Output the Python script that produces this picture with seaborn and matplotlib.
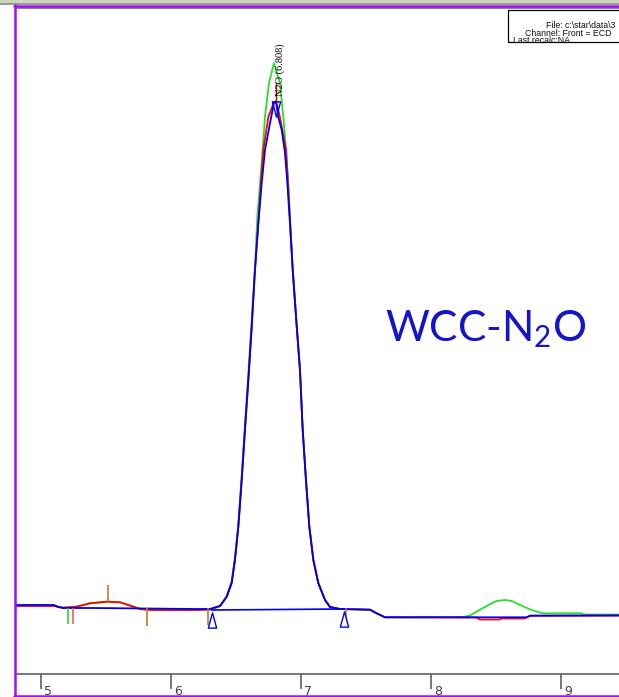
import numpy as np
import pandas as pd
import matplotlib
matplotlib.use("Agg")
import matplotlib.pyplot as plt
import seaborn as sns
from matplotlib.patches import Rectangle
from matplotlib.lines import Line2D
from matplotlib.path import Path
from matplotlib.transforms import ScaledTranslation

# ---------------- data ----------------
blue_time = [4.808, 5.10, 5.13, 5.17, 5.40, 5.80, 6.20, 6.30, 6.377, 6.428, 6.467, 6.492,
             6.518, 6.544, 6.569, 6.595, 6.621, 6.646, 6.672, 6.698, 6.723, 6.762, 6.792,
             6.808, 6.825, 6.852, 6.877, 6.895, 6.915, 6.936, 6.967, 6.992, 7.013, 7.038,
             7.064, 7.095, 7.133, 7.185, 7.223, 7.30, 7.531, 7.582, 7.646, 8.25, 8.736,
             8.762, 9.446]
blue_signal = [4, 4, 2, 1, 1, 0.5, 0, 0, 3, 12, 26, 49,
               82, 129, 179, 229, 282, 339, 386, 426, 459, 486, 506,
               507, 492, 479, 456, 426, 386, 339, 282, 239, 179, 129,
               82, 49, 26, 9, 2, 0, -0.7, -4.3, -8.3, -8.3, -8.3,
               -6.7, -6.5]

red_time = [4.808, 5.10, 5.17, 5.274, 5.377, 5.505, 5.608, 5.71, 5.762, 5.85, 6.20, 6.30,
            6.377, 6.428, 6.467, 6.492, 6.518, 6.544, 6.569, 6.595, 6.621, 6.646, 6.672,
            6.692, 6.710, 6.749, 6.790, 6.808, 6.838, 6.885, 6.900, 6.915, 6.936, 6.967,
            6.992, 7.013, 7.038, 7.064, 7.095, 7.133, 7.185, 7.223, 7.30, 7.531, 7.582,
            7.646, 8.35, 8.377, 8.53, 8.54, 8.72, 8.762, 9.446]
red_signal = [3, 3, 1.3, 2.3, 5.7, 7.3, 6.7, 2.3, 0, -1, -1, -0.5,
              3, 12, 26, 49, 82, 129, 179, 229, 282, 339, 386,
              426, 459, 492, 506, 508, 492, 459, 426, 390, 340, 284,
              240, 180, 130, 83, 49, 26, 9, 2, 0, -0.7, -4.3,
              -8.3, -8.5, -10.5, -10.5, -9.5, -9.5, -6.7, -6.5]

green_time = [4.808, 5.10, 5.17, 5.274, 5.377, 5.505, 5.608, 5.71, 5.762, 5.85, 6.20, 6.30,
              6.377, 6.428, 6.467, 6.492, 6.518, 6.544, 6.569, 6.595, 6.621, 6.646, 6.664,
              6.685, 6.705, 6.723, 6.754, 6.792, 6.838, 6.864, 6.885, 6.902, 6.915, 6.936,
              6.967, 6.992, 7.013, 7.038, 7.064, 7.095, 7.133, 7.185, 7.223, 7.30, 7.531,
              7.582, 7.646, 8.246, 8.30, 8.346, 8.40, 8.455, 8.505, 8.569, 8.62, 8.659,
              8.71, 8.762, 8.82, 8.862, 9.159, 9.17, 9.446]
green_signal = [3.5, 3.5, 1.3, 2.3, 5.7, 7.3, 6.7, 2.3, 0, -1, -1, -0.5,
                3, 13, 28, 52, 86, 134, 185, 236, 290, 342, 392,
                426, 459, 492, 526, 546, 526, 492, 459, 426, 392, 342,
                284, 240, 180, 130, 83, 49, 26, 9, 2, 0, -0.7,
                -4.3, -8.3, -8, -6.5, -3, 1, 5, 8, 9, 8, 5.7,
                2.5, -0.3, -3, -4.3, -4.3, -5.5, -5.5]

# integration baseline and peak-start/end markers
baseline_time = [6.313, 7.331]
baseline_signal = [-1, 0]

# detected peak
peak_name = ["N2O (6.808)"]
peak_time = [6.808]
peak_height = [507]

# integration event ticks
event_time = [5.208, 5.246, 5.515, 5.815, 6.285, 7.348]
event_low = [-15, -15, 7, -17, -16, -16]
event_high = [1, 1, 24, 1, 1, 1]
event_color = ["#22dd22", "#f06060", "#c07830", "#c07830", "#c07830", "#c07830"]

x_ticks = [5, 6, 7, 8, 9]
x_tick_labels = ["5", "6", "7", "8", "9"]

# ---------------- figure ----------------
W, H = 619, 697
sns.set_style("white")
plt.rcParams["mathtext.fontset"] = "custom"
plt.rcParams["mathtext.rm"] = "Lato"
plt.rcParams["mathtext.default"] = "rm"
fig = plt.figure(figsize=(W / 100, H / 100), dpi=100)

def fx(px):
    return px / W

def fy(py):
    return 1 - py / H

ax = fig.add_axes([fx(16), fy(674), fx(619) - fx(16), fy(8) - fy(674)])
ax.set_facecolor("white")

df = pd.concat([
    pd.DataFrame({"time": green_time, "signal": green_signal, "run": "green"}),
    pd.DataFrame({"time": red_time, "signal": red_signal, "run": "red"}),
    pd.DataFrame({"time": blue_time, "signal": blue_signal, "run": "blue"}),
], ignore_index=True)

palette = {"green": "#28e028", "red": "#ff0000", "blue": "#0000f0"}
sns.lineplot(data=df, x="time", y="signal", hue="run", hue_order=["green", "red", "blue"],
             palette=palette, estimator=None, sort=False, legend=False, lw=1.3, ax=ax)

# baseline
ax.plot(baseline_time, baseline_signal, color="#0000f0", lw=1.2)

# event ticks
ax.vlines(event_time, event_low, event_high, colors=event_color, lw=1.2)

# peak start/end triangles
tri_up = Path([(-0.27, -0.5), (0.27, -0.5), (0.0, 0.5), (-0.27, -0.5)],
              [Path.MOVETO, Path.LINETO, Path.LINETO, Path.CLOSEPOLY])
ax.plot(baseline_time, [b - 10 for b in baseline_signal], ls="none", marker=tri_up,
        ms=11, mfc="white", mec="#0000f0", mew=1.0)

# peak top marker and label
tri_down = Path([(-0.27, 0.5), (0.27, 0.5), (0.0, -0.5), (-0.27, 0.5)],
                [Path.MOVETO, Path.LINETO, Path.LINETO, Path.CLOSEPOLY])
for name, t, h in zip(peak_name, peak_time, peak_height):
    ax.plot([t, t], [h, h + 19], color="#d00000", lw=1.0)
    ax.plot([t], [h - 7], ls="none", marker=tri_down, ms=11, mfc="none",
            mec="#0000f0", mew=1.0)
    ax.text(t + 0.03, h + 6, name, rotation=90, ha="center", va="bottom",
            fontsize=7.5, family=["Liberation Serif", "DejaVu Serif"], color="black")

# title-like annotation
ax.text(7.646, 268, r"WCC-N$_2$O", fontsize=30.5, color="#1414c8",
        family=["Lato", "DejaVu Sans"], ha="left", va="baseline")

ax.set_xlim(4.808, 9.446)
ax.set_ylim(-65, 601)

ax.set_xticks(x_ticks)
ax.set_xticklabels(x_tick_labels)
ax.set_yticks([])
ax.set_xlabel("")
ax.set_ylabel("")
ax.tick_params(axis="x", direction="out", length=11, width=1.2, color="#606060",
               labelsize=9, labelcolor="#404040", pad=-3, bottom=True)
for lbl in ax.get_xticklabels():
    lbl.set_horizontalalignment("left")
    lbl.set_transform(lbl.get_transform() + ScaledTranslation(2 / 72, 0, fig.dpi_scale_trans))

for s in ["left", "right"]:
    ax.spines[s].set_visible(False)
ax.spines["bottom"].set_color("#606060")
ax.spines["bottom"].set_linewidth(1.2)
ax.spines["top"].set_color("#707070")
ax.spines["top"].set_linewidth(1.2)

# ---------------- window decorations ----------------
fig.add_artist(Rectangle((0, fy(3)), 1, fy(0) - fy(3), transform=fig.transFigure,
                         facecolor="#cdd4bf", edgecolor="none"))
fig.add_artist(Rectangle((0, fy(5)), 1, fy(3) - fy(5), transform=fig.transFigure,
                         facecolor="#98a08a", edgecolor="none"))
purple = "#a010ff"
fig.add_artist(Line2D([fx(14), 1], [fy(6), fy(6)], transform=fig.transFigure,
                      color=purple, lw=1.8))
fig.add_artist(Line2D([fx(15), fx(15)], [fy(5), fy(697)], transform=fig.transFigure,
                      color=purple, lw=1.8))
fig.add_artist(Line2D([fx(14), 1], [fy(695.5), fy(695.5)], transform=fig.transFigure,
                      color=purple, lw=1.8))

# info box
fig.add_artist(Rectangle((fx(508), fy(41.5)), fx(140), fy(10) - fy(41.5),
                         transform=fig.transFigure, facecolor="white",
                         edgecolor="black", lw=0.9))
info_font = ["Liberation Sans", "DejaVu Sans"]
fig.text(fx(546), fy(25), "File: c:\\star\\data\\3", fontsize=6.3, family=info_font,
         va="center", ha="left", color="#101010")
fig.text(fx(525), fy(33), "Channel: Front = ECD", fontsize=6.3, family=info_font,
         va="center", ha="left", color="#101010")
fig.text(fx(513), fy(40.5), "Last recalc:NA", fontsize=6.3, family=info_font,
         va="center", ha="left", color="#101010")

fig.savefig("out.png", dpi=100)
